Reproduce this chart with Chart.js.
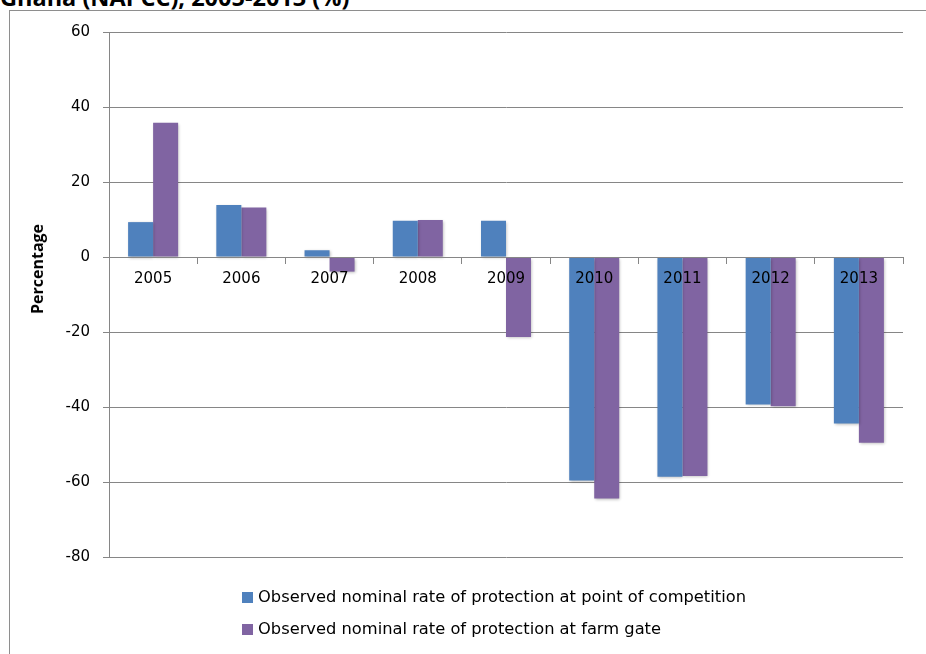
<!DOCTYPE html>
<html>
<head>
<meta charset="utf-8">
<script src="https://cdn.jsdelivr.net/npm/chart.js@4"></script>
<style>
  html, body { margin: 0; padding: 0; background: #fff; }
  body { width: 926px; height: 654px; position: relative; overflow: hidden; }
  #titulo {
    position: absolute; left: 0; top: -19px; line-height: 24px;
    font: bold 23.5px "Open Sans", sans-serif; color: #000; white-space: nowrap;
  }
  #moldura {
    position: absolute; left: 9px; top: 10px; width: 940px; height: 680px;
    border: 1px solid #8e8e8e; box-sizing: border-box;
  }
  #grafico { position: absolute; left: 0; top: 0; }
  #tituloY {
    position: absolute; left: 37px; top: 269px;
    transform: translate(-50%, -50%) rotate(-90deg);
    font: bold 16px "Open Sans", sans-serif; color: #000; white-space: nowrap;
  }
  #legenda {
    position: absolute; left: 242px; top: 583px;
    font: 16.3px "DejaVu Sans", sans-serif; color: #000;
  }
  #legenda div { height: 32px; line-height: 28px; white-space: nowrap; }
  #legenda span.caixa {
    display: inline-block; width: 11px; height: 11px; margin-right: 5px;
    vertical-align: -1px;
  }
</style>
</head>
<body>
<div id="titulo">Ghana (NAPCC), 2005-2013 (%)</div>
<div id="moldura"></div>
<canvas id="grafico" width="926" height="654"></canvas>
<div id="tituloY">Percentage</div>
<div id="legenda"></div>

<script>
// ==============================
// DADOS
// ==============================
const anos = ["2005", "2006", "2007", "2008", "2009", "2010", "2011", "2012", "2013"];
const taxaPontoCompeticao = [9.3, 13.9, 1.8, 9.7, 9.7, -59.6, -58.6, -39.3, -44.4];
const taxaPortaFazenda = [35.8, 13.2, -3.9, 9.9, -21.3, -64.4, -58.4, -39.8, -49.5];
const nomesSeries = [
  "Observed nominal rate of protection at point of competition",
  "Observed nominal rate of protection at farm gate"
];
const coresSeries = ["#4f81bd", "#8064a2"];
const eixoY = { min: -80, max: 60, passo: 20 };

const corGrade = "#868686";
const fonteEixo = { family: "DejaVu Sans", size: 15 };

// ==============================
// SOMBRA DAS BARRAS
// ==============================
const sombraBarras = {
  id: "sombraBarras",
  beforeDatasetsDraw(chart) {
    const c = chart.ctx;
    c.save();
    c.shadowColor = "rgba(0,0,0,0.28)";
    c.shadowBlur = 3;
    c.shadowOffsetX = 1;
    c.shadowOffsetY = 1;
  },
  afterDatasetsDraw(chart) {
    chart.ctx.restore();
  }
};

// ==============================
// GRÁFICO
// ==============================
const ctx = document.getElementById("grafico");

const grafico = new Chart(ctx, {
  type: "bar",
  plugins: [sombraBarras],
  data: {
    labels: anos,
    datasets: [
      { label: nomesSeries[0], data: taxaPontoCompeticao, backgroundColor: coresSeries[0] },
      { label: nomesSeries[1], data: taxaPortaFazenda, backgroundColor: coresSeries[1] }
    ]
  },
  options: {
    responsive: false,
    animation: false,
    barPercentage: 1,
    categoryPercentage: 0.567,
    layout: { padding: { left: 10, top: 32, right: 23, bottom: 97 } },
    plugins: {
      legend: { display: false },
      tooltip: { enabled: false }
    },
    scales: {
      x: {
        position: { y: 0 },
        grid: {
          offset: true,
          drawOnChartArea: false,
          tickLength: 6,
          color: corGrade,
          z: 1
        },
        border: { color: corGrade, z: 1 },
        ticks: { color: "#000", font: fonteEixo, padding: 7, maxRotation: 0, z: 1 }
      },
      y: {
        min: eixoY.min,
        max: eixoY.max,
        afterFit: s => { s.width = 99; },
        grid: { color: corGrade, tickLength: 6 },
        border: { color: corGrade },
        ticks: { stepSize: eixoY.passo, color: "#000", font: fonteEixo, padding: 13 }
      }
    }
  }
});

// ==============================
// LEGENDA
// ==============================
const legenda = document.getElementById("legenda");
grafico.data.datasets.forEach(ds => {
  const item = document.createElement("div");
  const caixa = document.createElement("span");
  caixa.className = "caixa";
  caixa.style.background = ds.backgroundColor;
  item.appendChild(caixa);
  item.appendChild(document.createTextNode(ds.label));
  legenda.appendChild(item);
});
</script>
</body>
</html>
